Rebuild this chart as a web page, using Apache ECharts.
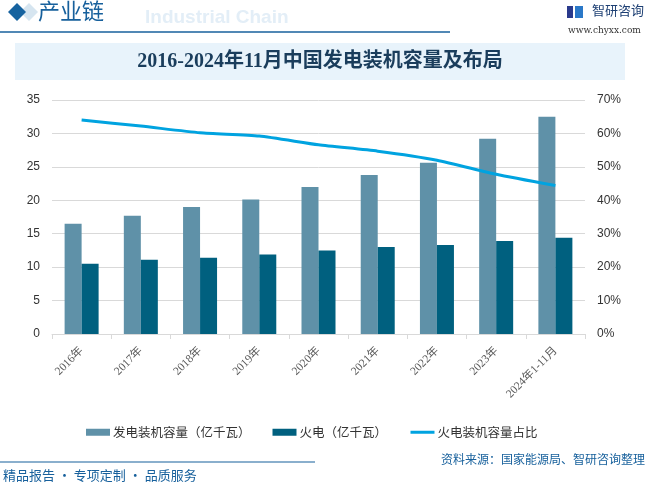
<!DOCTYPE html>
<html><head><meta charset="utf-8">
<script src="https://cdn.jsdelivr.net/npm/echarts@6/dist/echarts.min.js"></script>
<style>html,body{margin:0;padding:0;background:#fff}#c{width:648px;height:487px}</style>
</head><body><div id="c"></div>
<script>
const categories = ['2016年','2017年','2018年','2019年','2020年','2021年','2022年','2023年','2024年1-11月'];
const totalCapacity = [16.5, 17.7, 19.0, 20.1, 22.0, 23.8, 25.6, 29.2, 32.5];
const thermalCapacity = [10.5, 11.1, 11.4, 11.9, 12.5, 13.0, 13.3, 13.9, 14.4];
const thermalShare = [64.0, 62.2, 60.2, 59.2, 56.6, 54.7, 52.0, 47.8, 44.4];
const leftTicks = [0, 35, 5];
const rightTicks = [0, 70, 10];

const chart = echarts.init(document.getElementById('c'), null, {renderer:'canvas'});
const blue = '#17609c';
chart.setOption({
  animation:false,
  backgroundColor:'#fff',
  graphic:[
    {type:'text', left:145, top:8, style:{text:'Industrial Chain', font:'bold 19px Arial', fill:'#e3eef7'}},
    {type:'polygon', shape:{points:[[20,12],[29,3],[38,12],[29,21]]}, style:{fill:'#d6e5f0'}},
    {type:'polygon', shape:{points:[[8,12],[17,3],[26,12],[17,21]]}, style:{fill:'#16639f'}},
    {type:'text', left:38, top:0, style:{text:'产业链', font:'22px "Noto Sans CJK SC"', fill:blue}},
    {type:'line', shape:{x1:0,y1:32,x2:450,y2:32}, style:{stroke:blue, lineWidth:1.5}},
    {type:'rect', shape:{x:567,y:6,width:6,height:12}, style:{fill:'#2a3a8c'}},
    {type:'rect', shape:{x:575,y:6,width:8,height:12}, style:{fill:'#2a78c8'}},
    {type:'text', left:592, top:4, style:{text:'智研咨询', font:'13px "Noto Sans CJK SC"', fill:'#1d3f73'}},
    {type:'text', left:568, top:26, style:{text:'www.chyxx.com', font:'9px "DejaVu Serif"', fill:'#333'}},
    {type:'rect', shape:{x:15,y:43,width:610,height:37}, style:{fill:'#e8f3fb'}},
    {type:'text', x:320, y:62, style:{text:'2016-2024年11月中国发电装机容量及布局', font:'bold 20px "Liberation Serif", "Noto Sans CJK SC"', fill:'#1a3d5c', textAlign:'center', textVerticalAlign:'middle'}},
    {type:'line', shape:{x1:0,y1:462,x2:315,y2:462}, style:{stroke:blue, lineWidth:1.2}},
    {type:'text', left:3, top:469, style:{text:'精品报告 · 专项定制 · 品质服务', font:'13px "Noto Sans CJK SC"', fill:blue}},
    {type:'text', right:3, top:453, style:{text:'资料来源：国家能源局、智研咨询整理', font:'12px "Noto Sans CJK SC"', fill:blue}}
  ],
  legend:{
    top:421, left:81, itemGap:22, itemWidth:24, itemHeight:7,
    textStyle:{fontSize:12.5, color:'#333', fontFamily:'"Noto Sans CJK SC"', padding:[0,0,0,-2]},
    data:[
      {name:'发电装机容量（亿千瓦）', icon:'rect'},
      {name:'火电（亿千瓦）', icon:'rect'},
      {name:'火电装机容量占比', itemStyle:{opacity:0}, lineStyle:{width:3, color:'#00a3e0'}}
    ]
  },
  grid:{left:52, right:63, top:100, bottom:153},
  xAxis:{type:'category', data:categories, boundaryGap:true,
    axisLine:{lineStyle:{color:'#d9d9d9'}},
    axisTick:{show:true, length:5, lineStyle:{color:'#d9d9d9'}},
    axisLabel:{rotate:45, color:'#595959', fontSize:11.5, margin:15, interval:0, fontFamily:'"Liberation Serif","Noto Sans CJK SC"'}},
  yAxis:[
    {type:'value', min:leftTicks[0], max:leftTicks[1], interval:leftTicks[2],
     axisLine:{show:false}, axisTick:{show:false},
     axisLabel:{color:'#333', fontSize:12, margin:12},
     splitLine:{lineStyle:{color:'#d9d9d9'}}},
    {type:'value', min:rightTicks[0], max:rightTicks[1], interval:rightTicks[2],
     axisLine:{show:false}, axisTick:{show:false},
     axisLabel:{color:'#333', fontSize:12, margin:12, formatter:'{value}%'},
     splitLine:{show:false}}
  ],
  series:[
    {name:'发电装机容量（亿千瓦）', type:'bar', data:totalCapacity, barWidth:17, barGap:'0%', itemStyle:{color:'#5f91a8'}},
    {name:'火电（亿千瓦）', type:'bar', data:thermalCapacity, barWidth:17, barGap:'0%', itemStyle:{color:'#00607f'}},
    {name:'火电装机容量占比', type:'line', yAxisIndex:1, data:thermalShare, smooth:0.2, showSymbol:false, symbol:'none',
     lineStyle:{color:'#00a3e0', width:3}, itemStyle:{color:'#00a3e0'}}
  ]
});
</script></body></html>
